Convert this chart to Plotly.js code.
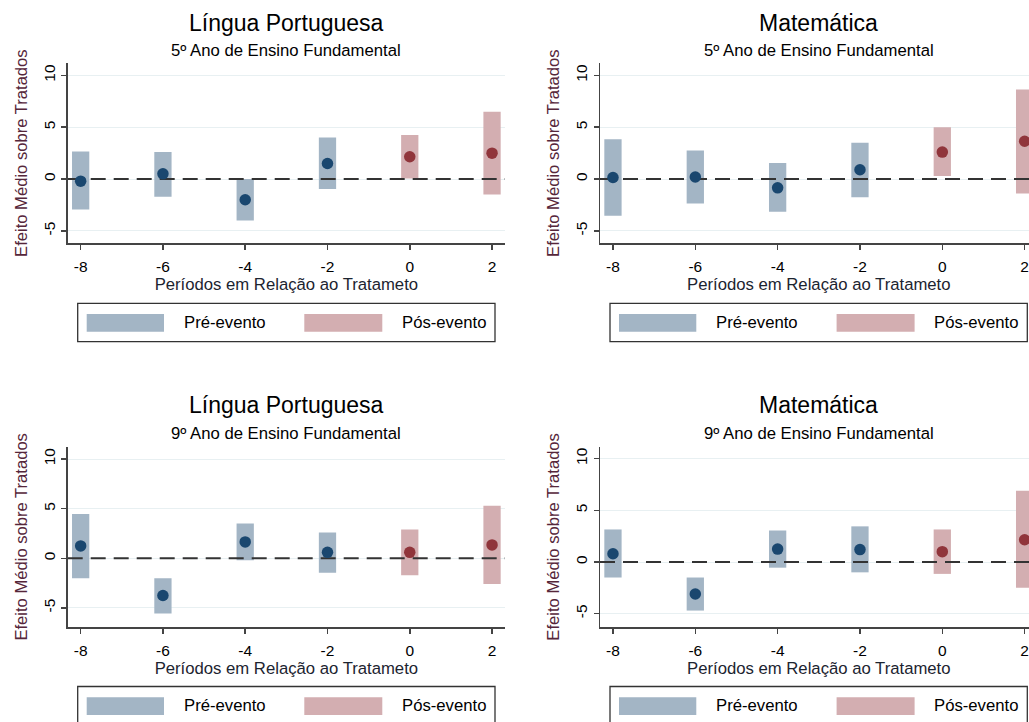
<!DOCTYPE html>
<html>
<head>
<meta charset="utf-8">
<script src="https://cdn.plot.ly/plotly-3.0.1.min.js"></script>
<style>
  html, body { margin: 0; padding: 0; overflow: hidden; background: #fff; }
  #chart { width: 1066px; height: 722px; }
</style>
</head>
<body>
<div id="chart"></div>
<script>
// ---------- data ----------
const periods = [-8, -6, -4, -2, 0, 2];
const tickValsY = [-5, 0, 5, 10];
const tickTextY = ['-5', '0', '5', '10'];
const tickValsX = [-8, -6, -4, -2, 0, 2];
const tickTextX = ['-8', '-6', '-4', '-2', '0', '2'];

const lp5_coef = [-0.2, 0.5, -2.0, 1.5, 2.15, 2.5];
const lp5_lo   = [-2.95, -1.7, -4.0, -0.95, 0.05, -1.5];
const lp5_hi   = [2.65, 2.6, 0.0, 4.0, 4.25, 6.5];

const mat5_coef = [0.15, 0.2, -0.85, 0.9, 2.6, 3.65];
const mat5_lo   = [-3.55, -2.35, -3.15, -1.75, 0.3, -1.4];
const mat5_hi   = [3.85, 2.75, 1.55, 3.5, 5.0, 8.65];

const lp9_coef = [1.25, -3.75, 1.65, 0.6, 0.6, 1.35];
const lp9_lo   = [-2.0, -5.55, -0.2, -1.45, -1.7, -2.6];
const lp9_hi   = [4.45, -2.0, 3.5, 2.6, 2.9, 5.3];

const mat9_coef = [0.8, -3.1, 1.25, 1.2, 1.0, 2.15];
const mat9_lo   = [-1.5, -4.7, -0.55, -1.0, -1.15, -2.5];
const mat9_hi   = [3.15, -1.5, 3.05, 3.45, 3.15, 6.9];

const titles = ['Língua Portuguesa', 'Matemática', 'Língua Portuguesa', 'Matemática'];
const subtitles = ['5º Ano de Ensino Fundamental', '5º Ano de Ensino Fundamental',
                   '9º Ano de Ensino Fundamental', '9º Ano de Ensino Fundamental'];
const xTitle = 'Períodos em Relação ao Tratameto';
const yTitle = 'Efeito Médio sobre Tratados';
const legendLabels = ['Pré-evento', 'Pós-evento'];

// ---------- styling / geometry ----------
const W = 1066, H = 722;
const FONT = 'Liberation Sans, Arial, sans-serif';
const NAVY = '#1a476f', MAROON = '#90353b';
const NAVY_CI = 'rgb(163,181,197)', MAROON_CI = 'rgb(211,174,177)';
const xp = px => px / W;
const yp = py => 1 - py / H;

const panels = [
  {coef: lp5_coef, lo: lp5_lo, hi: lp5_hi, L: 67.7, R: 505, T: 63, B: 243.3, yr: [-6.2, 11.2], tY: 23.3, sY: 51, legT: 303.3},
  {coef: mat5_coef, lo: mat5_lo, hi: mat5_hi, L: 600, R: 1037.6, T: 63, B: 243.3, yr: [-6.2, 11.2], tY: 23.3, sY: 51, legT: 303.3},
  {coef: lp9_coef, lo: lp9_lo, hi: lp9_hi, L: 67.7, R: 505, T: 446.7, B: 627, yr: [-6.92, 11.24], tY: 405, sY: 433.3, legT: 686.5},
  {coef: mat9_coef, lo: mat9_lo, hi: mat9_hi, L: 600, R: 1037.6, T: 446.7, B: 627, yr: [-6.29, 11.16], tY: 405, sY: 433.3, legT: 686.5},
];
const xr = [-8.315, 2.315];

const traces = [];
const layout = {
  width: W, height: H,
  margin: {l: 0, r: 0, t: 0, b: 0},
  paper_bgcolor: '#fff', plot_bgcolor: '#fff',
  showlegend: false,
  font: {family: FONT, color: '#000'},
  shapes: [], annotations: []
};

panels.forEach((p, i) => {
  const n = i === 0 ? '' : String(i + 1);
  const xa = 'x' + n, ya = 'y' + n;
  const pre = periods.map((v, k) => k).filter(k => periods[k] < 0);
  const post = periods.map((v, k) => k).filter(k => periods[k] >= 0);
  const pick = (arr, idx) => idx.map(k => arr[k]);

  [[pre, NAVY_CI], [post, MAROON_CI]].forEach(([idx, col]) => {
    traces.push({
      type: 'bar', xaxis: xa, yaxis: ya,
      x: pick(periods, idx),
      base: pick(p.lo, idx),
      y: idx.map(k => p.hi[k] - p.lo[k]),
      width: 0.42,
      marker: {color: col, line: {width: 0}},
      hoverinfo: 'skip'
    });
  });
  // reference line at zero
  traces.push({
    type: 'scatter', mode: 'lines', xaxis: xa, yaxis: ya,
    x: xr, y: [0, 0],
    line: {color: '#333', width: 2, dash: '15px,8px'},
    hoverinfo: 'skip', cliponaxis: true
  });
  [[pre, NAVY], [post, MAROON]].forEach(([idx, col]) => {
    traces.push({
      type: 'scatter', mode: 'markers', xaxis: xa, yaxis: ya,
      x: pick(periods, idx), y: pick(p.coef, idx),
      marker: {color: col, size: 11.5, line: {width: 0}}
    });
  });

  layout['xaxis' + n] = {
    domain: [xp(p.L), xp(p.R)], anchor: ya, range: xr,
    tickvals: tickValsX, ticktext: tickTextX,
    showline: true, linecolor: '#444', linewidth: 1.5,
    ticks: 'outside', ticklen: 5, tickcolor: '#444', tickwidth: 1.5,
    showgrid: false, zeroline: false,
    tickfont: {size: 15.5, color: '#000', family: FONT},
    ticklabelstandoff: 4,
    title: {text: xTitle, font: {size: 16.7, color: '#1c2430', family: FONT}, standoff: 1}
  };
  layout['yaxis' + n] = {
    domain: [yp(p.B), yp(p.T)], anchor: xa, range: p.yr,
    tickvals: tickValsY, ticktext: tickTextY, tickangle: -90,
    showline: true, linecolor: '#444', linewidth: 1.5,
    ticks: 'outside', ticklen: 5, tickcolor: '#444', tickwidth: 1.5,
    showgrid: true, gridcolor: '#e8f0f2', gridwidth: 1,
    zeroline: false,
    tickfont: {size: 15.5, color: '#000', family: FONT},
    ticklabelstandoff: 0,
    title: {text: yTitle, font: {size: 16.6, color: '#55263a', family: FONT}, standoff: 9}
  };

  const cx = (p.L + p.R) / 2;
  layout.annotations.push({
    text: titles[i], xref: 'paper', yref: 'paper', x: xp(cx), y: yp(p.tY),
    xanchor: 'center', yanchor: 'middle', showarrow: false,
    font: {size: 23, color: '#000', family: FONT}
  });
  layout.annotations.push({
    text: subtitles[i], xref: 'paper', yref: 'paper', x: xp(cx), y: yp(p.sY),
    xanchor: 'center', yanchor: 'middle', showarrow: false,
    font: {size: 16.7, color: '#000', family: FONT}
  });

  // legend box
  const bl = p.L + 10, bw = 417.3, bt = p.legT, bh = 38.4;
  layout.shapes.push({type: 'rect', xref: 'paper', yref: 'paper',
    x0: xp(bl), x1: xp(bl + bw), y0: yp(bt + bh), y1: yp(bt),
    line: {color: '#333', width: 1.3}, fillcolor: '#fff', layer: 'below'});
  [[9, 86.3, NAVY_CI, 104, 0], [226.6, 304.6, MAROON_CI, 322.3, 1]].forEach(([s0, s1, col, tx, li]) => {
    layout.shapes.push({type: 'rect', xref: 'paper', yref: 'paper',
      x0: xp(bl + s0), x1: xp(bl + s1), y0: yp(bt + 28.4), y1: yp(bt + 10.7),
      line: {width: 0}, fillcolor: col, layer: 'above'});
    layout.annotations.push({
      text: legendLabels[li], xref: 'paper', yref: 'paper', x: xp(bl + tx), y: yp(bt + 19.4),
      xanchor: 'left', yanchor: 'middle', showarrow: false,
      font: {size: 16.7, color: '#000', family: FONT}
    });
  });
});

Plotly.newPlot('chart', traces, layout, {staticPlot: true, displayModeBar: false});
</script>
</body>
</html>
